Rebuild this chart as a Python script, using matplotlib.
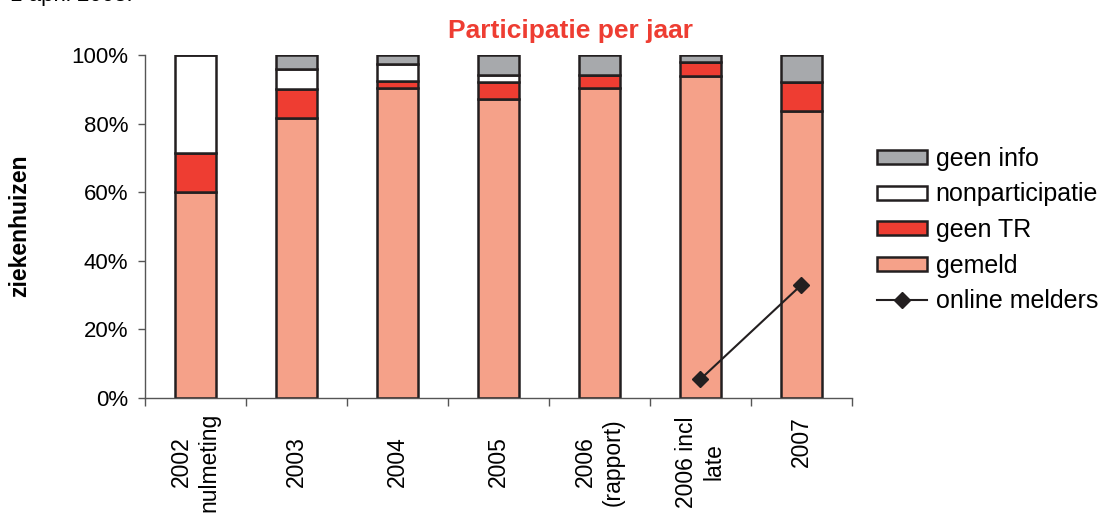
import matplotlib
matplotlib.use("Agg")
import matplotlib.pyplot as plt
import matplotlib.transforms as mtransforms
from matplotlib.patches import Patch
from matplotlib.lines import Line2D
import numpy as np

plt.rcParams["font.family"] = ["Liberation Sans", "DejaVu Sans"]

# Participation per year, share of hospitals (%)
categories = ["2002\nnulmeting", "2003", "2004", "2005", "2006\n(rapport)", "2006 incl\nlate", "2007"]
gemeld = [60.0, 81.5, 90.3, 87.3, 90.3, 94.0, 83.7]
geen_tr = [11.5, 8.7, 2.0, 4.8, 3.9, 4.0, 8.5]
nonparticipatie = [28.5, 5.8, 5.0, 2.2, 0.0, 0.0, 0.0]
geen_info = [0.0, 4.0, 2.7, 5.7, 5.8, 2.0, 7.8]
online_melders = [None, None, None, None, None, 5.5, 33.0]
y_ticks = [0, 20, 40, 60, 80, 100]

C_GEMELD = "#F5A189"
C_GEENTR = "#EE3D32"
C_NONPART = "#FFFFFF"
C_INFO = "#A7A9AC"
EDGE = "#231F20"

fig = plt.figure(figsize=(11.08, 5.14), dpi=100)
ax = fig.add_axes([145 / 1108, 116 / 514, 707 / 1108, 343 / 514])

x = np.arange(len(categories))
w = 0.4
bar_kw = dict(width=w, edgecolor=EDGE, linewidth=1.8, zorder=2)

ax.bar(x, gemeld, color=C_GEMELD, **bar_kw)
bottom = np.array(gemeld)
ax.bar(x, geen_tr, bottom=bottom, color=C_GEENTR, **bar_kw)
bottom = bottom + np.array(geen_tr)
ax.bar(x, nonparticipatie, bottom=bottom, color=C_NONPART, **bar_kw)
bottom = bottom + np.array(nonparticipatie)
ax.bar(x, geen_info, bottom=bottom, color=C_INFO, **bar_kw)

# online reporters line
ox = [i for i, v in enumerate(online_melders) if v is not None]
oy = [v for v in online_melders if v is not None]
ax.plot(ox, oy, color=EDGE, linewidth=1.5, marker="D", markersize=8,
        markerfacecolor=EDGE, markeredgecolor=EDGE, zorder=3)

ax.set_xlim(-0.5, len(categories) - 0.5)
ax.set_ylim(0, 100)

for s in ["top", "right"]:
    ax.spines[s].set_visible(False)
for s in ["left", "bottom"]:
    ax.spines[s].set_color("#555555")
    ax.spines[s].set_linewidth(1.0)

ax.set_yticks(y_ticks)
ax.set_yticklabels([f"{v}%" for v in y_ticks], fontsize=16)
ax.tick_params(axis="y", direction="out", length=5, width=1, color="#555555", pad=7)

ax.set_xticks(x)
ax.set_xticklabels(categories, rotation=90, ha="center", va="center",
                   multialignment="center", fontsize=16.5, linespacing=1.25)
ax.tick_params(axis="x", which="major", length=0, pad=46)
ax.set_xticks(np.arange(len(categories) + 1) - 0.5, minor=True)
ax.tick_params(axis="x", which="minor", direction="out", length=6, width=1, color="#555555")

# the last label sits somewhat higher
lbl = ax.get_xticklabels()[-1]
lbl.set_transform(lbl.get_transform() + mtransforms.ScaledTranslation(0, 20 / 100, fig.dpi_scale_trans))

fig.text(20 / 1108, 1 - 226 / 514, "ziekenhuizen", rotation=90, fontsize=16.5,
         fontweight="bold", ha="center", va="center")

fig.text(570 / 1108, 1 - 31 / 514, "Participatie per jaar", fontsize=19,
         fontweight="bold", color=C_GEENTR, ha="center", va="center")

fig.text(10 / 1108, 1 - 1 / 514, "1 april 2008.", fontsize=16, ha="left", va="baseline")

handles = [
    Patch(facecolor=C_INFO, edgecolor=EDGE, linewidth=1.8),
    Patch(facecolor=C_NONPART, edgecolor=EDGE, linewidth=1.8),
    Patch(facecolor=C_GEENTR, edgecolor=EDGE, linewidth=1.8),
    Patch(facecolor=C_GEMELD, edgecolor=EDGE, linewidth=1.8),
    Line2D([0], [0], color=EDGE, linewidth=1.5, marker="D", markersize=8,
           markerfacecolor=EDGE, markeredgecolor=EDGE),
]
labels = ["geen info", "nonparticipatie", "geen TR", "gemeld", "online melders"]
fig.legend(handles, labels, loc="upper left", bbox_to_anchor=(877 / 1108, 1 - 147 / 514),
           frameon=False, fontsize=18, handlelength=2.0, handleheight=0.5,
           handletextpad=0.35, labelspacing=0.46, borderpad=0, borderaxespad=0)

fig.savefig("out.png", dpi=100)
